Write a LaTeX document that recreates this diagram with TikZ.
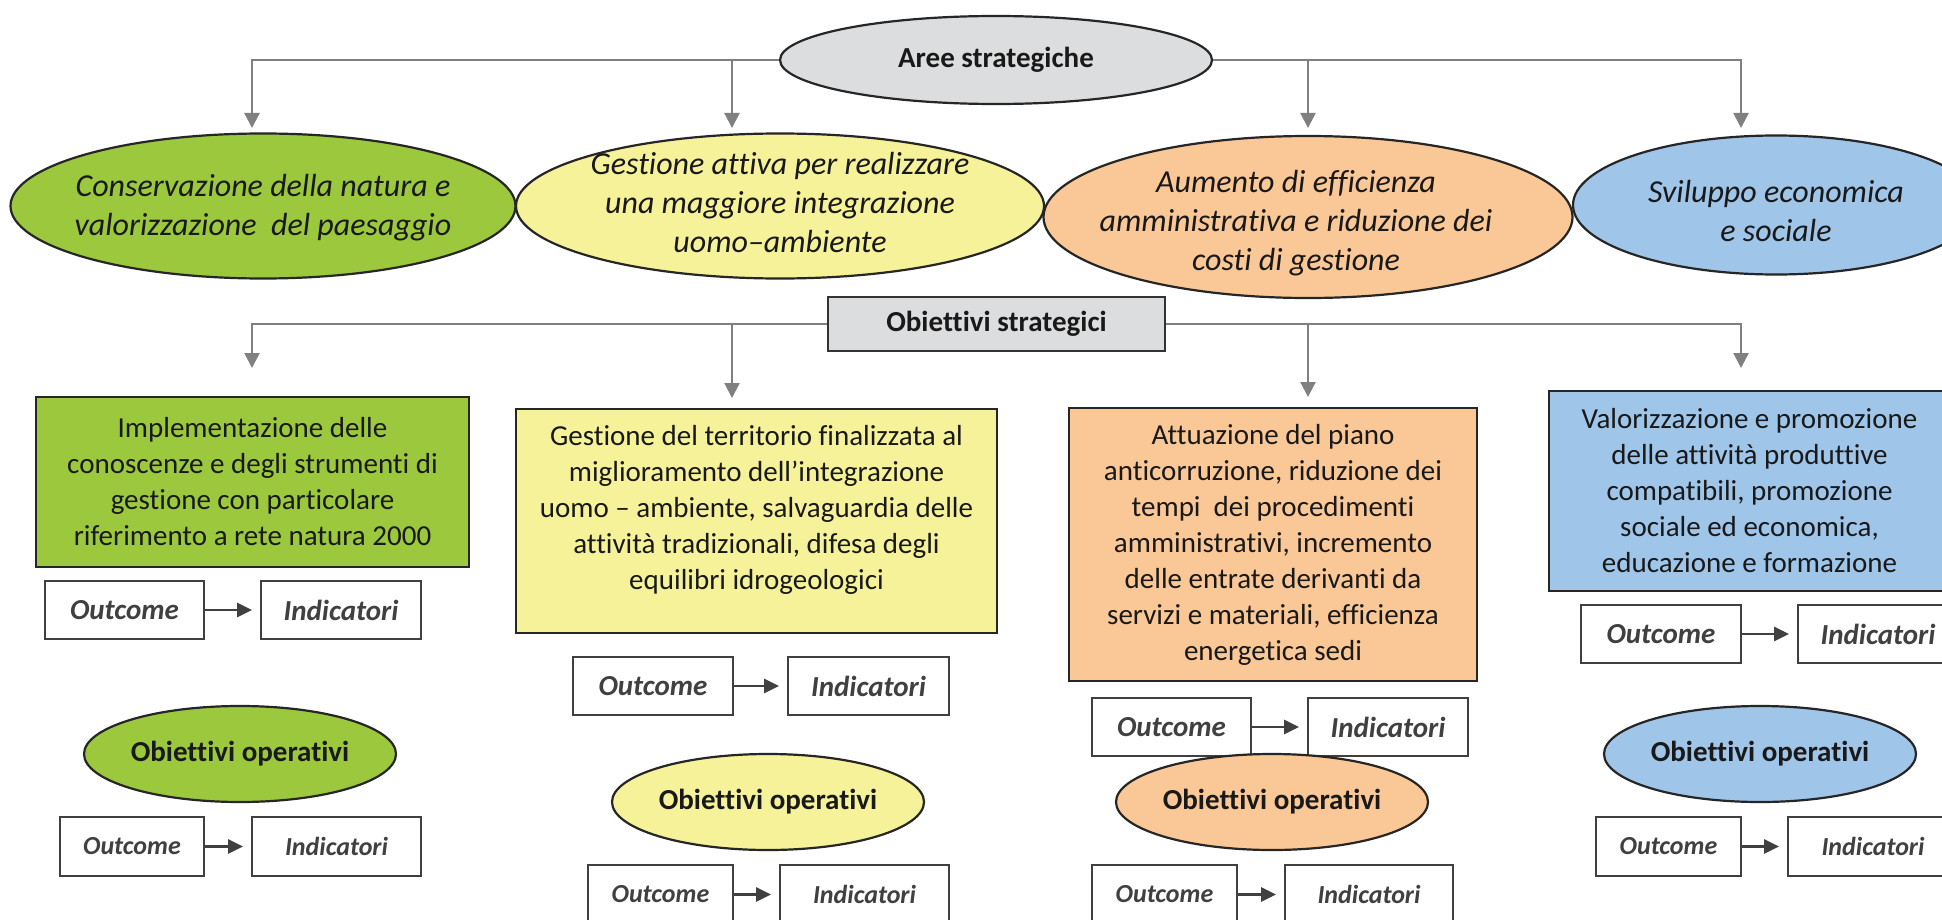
\documentclass[tikz,border=0pt]{standalone}
\usepackage{fontspec}
\setmainfont{Carlito}[Ligatures=NoCommon]
\usetikzlibrary{shapes.geometric,arrows.meta}

\definecolor{areagreen}{HTML}{9BC83C}
\definecolor{areayellow}{HTML}{F6F29A}
\definecolor{areaorange}{HTML}{FAC896}
\definecolor{areablue}{HTML}{9FC5E8}
\definecolor{headgray}{HTML}{DCDDDE}

\begin{document}
\begin{tikzpicture}[x=0.5pt,y=-0.5pt,
  every node/.style={inner sep=0pt, text=black!90},
  conn/.style={draw=black!50, line width=1.1pt, -{Triangle[width=7.5pt,length=7.5pt]}},
  smallarrow/.style={draw=black!75, line width=1.4pt, -{Triangle[width=7pt,length=7.5pt]}, shorten >=4pt},
  headell/.style={ellipse, draw=black!85, line width=1.1pt, font=\fontsize{14.5}{17}\selectfont\bfseries},
  headbox/.style={rectangle, draw=black!80, line width=1.1pt, font=\fontsize{14.5}{17}\selectfont\bfseries},
  areaell/.style={ellipse, draw=black!85, line width=1.1pt},
  areatxt/.style={align=center, font=\fontsize{16}{19.5}\selectfont\itshape},
  goalbox/.style={rectangle, draw=black!85, line width=1.3pt, align=center, font=\fontsize{14.5}{18}\selectfont},
  opell/.style={ellipse, draw=black!85, line width=1.1pt, minimum width=156pt, minimum height=48pt, font=\fontsize{14.5}{17}\selectfont\bfseries},
  kpibox/.style={rectangle, draw=black!75, line width=1pt, text=black!75}
]
\useasboundingbox (0,0) rectangle (1942,920);
\clip (0,0) rectangle (1942,920);
\fill[white] (0,0) rectangle (1942,920);

% aree strategiche
\node[headell, fill=headgray, minimum width=216pt, minimum height=44pt] (aree) at (996,60) {Aree strategiche};

\node[areaell, fill=areagreen, minimum width=252.5pt, minimum height=72.5pt] (area1) at (263,206) {};
\node[areatxt] (area1t) at (263,208) {Conservazione della natura e\\valorizzazione~ del paesaggio};
\node[areaell, fill=areayellow, minimum width=264pt, minimum height=72.5pt] (area2) at (780,206) {};
\node[areatxt] (area2t) at (780,203) {Gestione attiva per realizzare\\una maggiore integrazione\\uomo--ambiente};
\node[areaell, fill=areaorange, minimum width=264.5pt, minimum height=81pt] (area3) at (1308,217) {};
\node[areatxt] (area3t) at (1296,223) {Aumento di efficienza\\amministrativa e riduzione dei\\costi di gestione};
\node[areaell, fill=areablue, minimum width=203pt, minimum height=69.5pt] (area4) at (1776,205) {};
\node[areatxt] (area4t) at (1776,211) {Sviluppo economica\\e sociale};

\coordinate (t1) at (252,128);
\coordinate (t2) at (732,128);
\coordinate (t3) at (1308,128);
\coordinate (t4) at (1741,128);
\draw[conn] (aree.west) -| (t1);
\draw[conn] (aree.west) -| (t2);
\draw[conn] (aree.east) -| (t3);
\draw[conn] (aree.east) -| (t4);

% obiettivi strategici
\node[headbox, fill=headgray, minimum width=168.5pt, minimum height=27pt] (obst) at (996.5,324) {Obiettivi strategici};

\coordinate (s1) at (252,368);
\coordinate (s2) at (732,398);
\coordinate (s3) at (1308,397);
\coordinate (s4) at (1741,368);
\draw[conn] (obst.west) -| (s1);
\draw[conn] (obst.west) -| (s2);
\draw[conn] (obst.east) -| (s3);
\draw[conn] (obst.east) -| (s4);

\node[goalbox, fill=areagreen, minimum width=216.5pt, minimum height=85pt] (goal1) at (252.5,482)
  {Implementazione delle\\conoscenze e degli strumenti di\\gestione con particolare\\riferimento a rete natura 2000};
\node[goalbox, fill=areayellow, minimum width=240.5pt, minimum height=112pt, text depth=13.5pt] (goal2) at (756.5,521)
  {Gestione del territorio finalizzata al\\miglioramento dell’integrazione\\uomo -- ambiente, salvaguardia delle\\attività tradizionali, difesa degli\\equilibri idrogeologici};
\node[goalbox, fill=areaorange, minimum width=204pt, minimum height=136.5pt] (goal3) at (1273,544.5)
  {Attuazione del piano\\anticorruzione, riduzione dei\\tempi~ dei procedimenti\\amministrativi, incremento\\delle entrate derivanti da\\servizi e materiali, efficienza\\energetica sedi};
\node[goalbox, fill=areablue, minimum width=200.5pt, minimum height=100pt] (goal4) at (1749.5,491)
  {Valorizzazione e promozione\\delle attività produttive\\compatibili, promozione\\sociale ed economica,\\educazione e formazione};

% outcome -> indicatori
\foreach \n/\ox/\ow/\ix/\iw/\y/\h/\fs in {
  g1/124.5/79.5/341/80/610/29/14.5, y1/653/80/868.5/80.5/686/29/14.5,
  o1/1171.5/79.5/1388/80/727/29/14.5, b1/1661/80/1878/80/634/29/14.5,
  g2/132/72/336.5/84.5/846.5/29.5/13, y2/660.5/72.5/864.5/84.5/894.5/29.5/13,
  o2/1164.5/72.5/1369/84/894.5/29.5/13, b2/1668.5/72.5/1873/85/846.5/29.5/13}{
  \node[kpibox, minimum width=\ow pt, minimum height=\h pt, font=\fontsize{\fs}{17}\selectfont\bfseries\itshape] (out\n) at (\ox,\y) {Outcome};
  \node[kpibox, minimum width=\iw pt, minimum height=\h pt, font=\fontsize{\fs}{17}\selectfont\bfseries\itshape] (ind\n) at (\ix,\y) {Indicatori};
  \draw[smallarrow] (out\n) -- (ind\n);
}

% obiettivi operativi
\node[opell, fill=areagreen] (op1) at (240,754) {Obiettivi operativi};
\node[opell, fill=areayellow] (op2) at (768,802) {Obiettivi operativi};
\node[opell, fill=areaorange] (op3) at (1272,802) {Obiettivi operativi};
\node[opell, fill=areablue] (op4) at (1760,754) {Obiettivi operativi};
\end{tikzpicture}
\end{document}
